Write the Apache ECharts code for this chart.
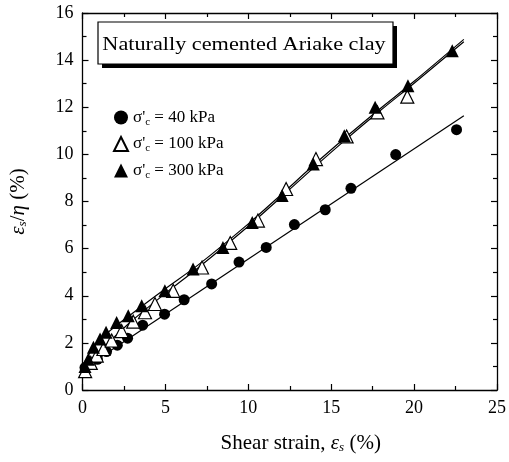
<!DOCTYPE html>
<html><head><meta charset="utf-8">
<script src="https://cdn.jsdelivr.net/npm/echarts@6/dist/echarts.min.js"></script>
<style>html,body{margin:0;padding:0;background:#fff}#c{width:509px;height:462px}</style>
</head><body><div id="c"></div>
<script>
// Data
const c40x = [0.15,0.45,0.9,1.45,2.1,2.72,3.63,4.95,6.13,7.79,9.44,11.08,12.78,14.64,16.19,18.89,22.56];
const c40y = [0.95,1.1,1.3,1.63,1.9,2.2,2.75,3.22,3.83,4.5,5.43,6.05,7.02,7.65,8.56,9.99,11.05];
const t100x = [0.16,0.5,0.86,1.26,1.76,2.36,3.06,3.77,4.37,5.47,7.21,8.91,10.58,12.28,14.08,15.93,17.79,19.59];
const t100y = [0.8,1.15,1.46,1.74,2.1,2.5,2.9,3.3,3.65,4.21,5.2,6.24,7.19,8.53,9.8,10.76,11.78,12.45];
const t300x = [0.15,0.35,0.66,1.06,1.42,2.06,2.76,3.57,4.97,6.67,8.47,10.24,12.04,13.92,15.79,17.65,19.63,22.3];
const t300y = [1.0,1.3,1.81,2.16,2.45,2.87,3.15,3.58,4.21,5.13,6.05,7.11,8.25,9.59,10.79,12.0,12.91,14.4];
// fitted lines
const fit40x = [0, 23];
const fit40y = [0.88, 11.64];
const fit100x = [0, 1, 2, 3, 5, 7, 10, 12, 14, 16, 18, 20, 23];
const fit100y = [0.82, 1.6, 2.3, 2.95, 4.1, 5.2, 6.95, 8.2, 9.47, 10.7, 11.88, 13.02, 14.78];
const fit300x = [0, 0.6, 1.5, 3, 5, 7, 10, 12, 14, 16, 18, 20, 23];
const fit300y = [0.95, 1.75, 2.42, 3.25, 4.3, 5.32, 7.05, 8.3, 9.58, 10.8, 11.97, 13.1, 14.88];
const xTicks = [0, 5, 10, 15, 20, 25];
const yTicks = [0, 2, 4, 6, 8, 10, 12, 14, 16];
const names = ['40', '100', '300'];
const titleText = 'Naturally cemented Ariake clay';

const zip = (a, b) => a.map((v, i) => [v, b[i]]);
const F = 'Liberation Serif, Times New Roman, serif';
const chart = echarts.init(document.getElementById('c'));

const axBase = (extra) => Object.assign({
  axisLine: { show: true, onZero: false, lineStyle: { color: '#000', width: 1.3 } },
  axisTick: { show: true, inside: true, length: 6, lineStyle: { color: '#000', width: 1.2 } },
  minorTick: { show: true, splitNumber: 2, length: 4, lineStyle: { color: '#000', width: 1.2 } },
  splitLine: { show: false },
  minorSplitLine: { show: false }
}, extra);

const rich = {
  n: { fontFamily: F, fontSize: 17, color: '#000' },
  s: { fontFamily: F, fontSize: 11, color: '#000', padding: [9, 0, 0, 0] }
};
const nameRich = {
  i: { fontFamily: F, fontSize: 21, fontStyle: 'italic', color: '#000' },
  is: { fontFamily: F, fontSize: 13, fontStyle: 'italic', color: '#000', padding: [9, 0, 0, 0] },
  t: { fontFamily: F, fontSize: 21, color: '#000' }
};

chart.setOption({
  animation: false,
  backgroundColor: '#fff',
  grid: { left: 82, right: 11, top: 13, bottom: 72 },
  xAxis: [
    axBase({ type: 'value', min: 0, max: 25, interval: 5, position: 'bottom',
      axisLabel: { color: '#000', fontFamily: F, fontSize: 18, margin: 9,
        formatter: v => xTicks.includes(v) ? String(v) : '' },
      name: '{t|Shear strain, }{i|ε}{is|s}{t| (%)}', nameLocation: 'middle', nameGap: 42,
      nameTextStyle: { fontFamily: F, fontSize: 21, color: '#000', padding: [0, 0, 0, 22], rich: nameRich } }),
    axBase({ type: 'value', min: 0, max: 25, interval: 5, position: 'top', axisLabel: { show: false } })
  ],
  yAxis: [
    axBase({ type: 'value', min: 0, max: 16, interval: 2, position: 'left',
      axisLabel: { color: '#000', fontFamily: F, fontSize: 18, margin: 9,
        formatter: v => yTicks.includes(v) ? String(v) : '' },
      name: '{i|ε}{is|s}{t|/}{i|η}{t| (%)}', nameLocation: 'middle', nameGap: 53, nameRotate: 90,
      nameTextStyle: { fontFamily: F, fontSize: 21, color: '#000', rich: nameRich } }),
    axBase({ type: 'value', min: 0, max: 16, interval: 2, position: 'right', axisLabel: { show: false } })
  ],
  legend: {
    data: names.map(n => 'σ\'c = ' + n + ' kPa'),
    orient: 'vertical', left: 108, top: 104, itemGap: 8, itemWidth: 14, itemHeight: 14,
    formatter: (name) => {
      const m = name.match(/= (\d+)/);
      return '{n|σ\'}{s|c}{n| = ' + m[1] + ' kPa}';
    },
    textStyle: { fontFamily: F, fontSize: 17, color: '#000', rich: rich }
  },
  graphic: [
    { type: 'rect', shape: { x: 102, y: 26, width: 295, height: 42 }, style: { fill: '#000' }, z: 10 },
    { type: 'rect', shape: { x: 98, y: 22, width: 295, height: 42 }, style: { fill: '#fff', stroke: '#000', lineWidth: 1.2 }, z: 11 },
    { type: 'text', x: 244, y: 45, scaleX: 1.17, z: 12, style: { text: titleText, fontFamily: F, fontSize: 19, fill: '#000', align: 'center', verticalAlign: 'middle' } }
  ],
  series: [
    { type: 'line', data: zip(fit40x, fit40y), symbol: 'none', lineStyle: { color: '#000', width: 1.2 }, z: 2 },
    { type: 'line', data: zip(fit100x, fit100y), smooth: 0.3, symbol: 'none', lineStyle: { color: '#000', width: 1.2 }, z: 2 },
    { type: 'line', data: zip(fit300x, fit300y), smooth: 0.3, symbol: 'none', lineStyle: { color: '#000', width: 1.2 }, z: 2 },
    { name: 'σ\'c = 40 kPa', type: 'scatter', data: zip(c40x, c40y), symbol: 'circle', symbolSize: 11,
      itemStyle: { color: '#000', opacity: 1 }, z: 3 },
    { name: 'σ\'c = 100 kPa', type: 'scatter', data: zip(t100x, t100y), symbol: 'triangle', symbolSize: 13,
      itemStyle: { color: '#fff', borderColor: '#000', borderWidth: 1.2, opacity: 1 }, z: 3 },
    { name: 'σ\'c = 300 kPa', type: 'scatter', data: zip(t300x, t300y), symbol: 'triangle', symbolSize: 13,
      itemStyle: { color: '#000', opacity: 1 }, z: 4 }
  ]
});
</script></body></html>
